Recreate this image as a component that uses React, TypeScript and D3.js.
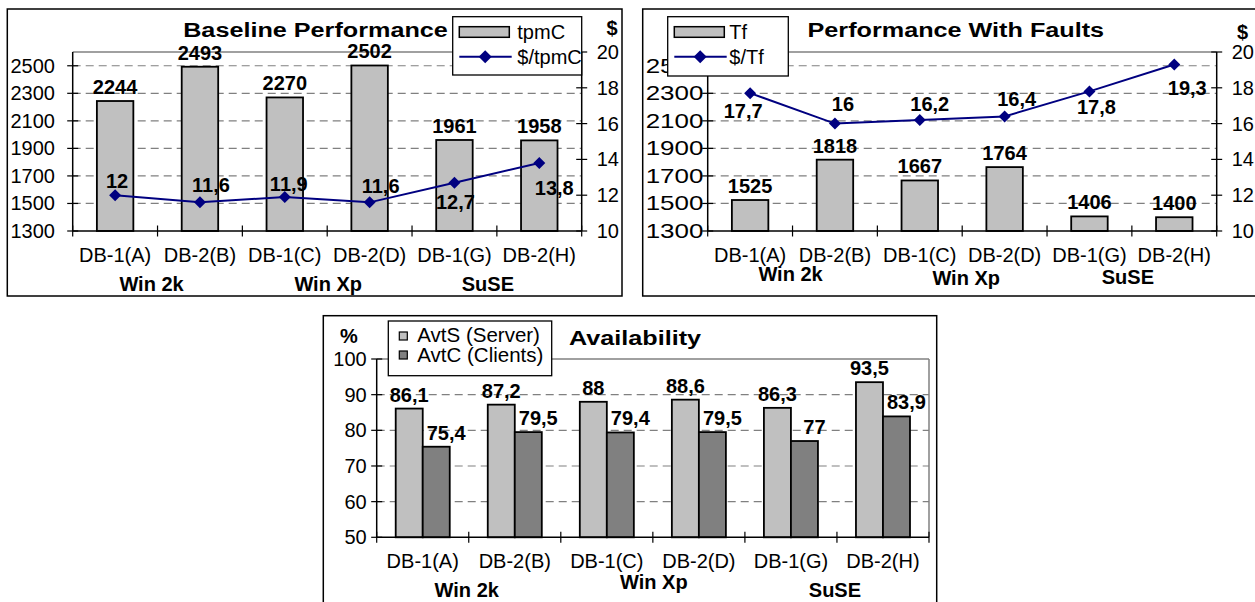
import React from 'react';
import * as d3 from 'd3';

// Server configurations, grouped by operating system (two per OS)
const categories = ['DB-1(A)', 'DB-2(B)', 'DB-1(C)', 'DB-2(D)', 'DB-1(G)', 'DB-2(H)'];
const osGroups = ['Win 2k', 'Win Xp', 'SuSE'];

// Baseline performance
const tpmC = [2244, 2493, 2270, 2502, 1961, 1958];
const costPerTpmC = [12, 11.6, 11.9, 11.6, 12.7, 13.8];

// Performance with faults
const tf = [1525, 1818, 1667, 1764, 1406, 1400];
const costPerTf = [17.7, 16, 16.2, 16.4, 17.8, 19.3];

// Availability (%)
const avtS = [86.1, 87.2, 88, 88.6, 86.3, 93.5];
const avtC = [75.4, 79.5, 79.4, 79.5, 77, 83.9];

const leftTicks = [1300, 1500, 1700, 1900, 2100, 2300, 2500];
const rightTicks = [10, 12, 14, 16, 18, 20];
const pctTicks = [50, 60, 70, 80, 90, 100];

const FONT = 'Liberation Sans, Arial, Helvetica, sans-serif';
const BAR_LIGHT = '#C0C0C0';
const BAR_DARK = '#808080';
const NAVY = '#000080';
const GRID = '#808080';

const fmt = (v: number) => String(v).replace('.', ',');
const diamond = (r: number) => `M0,${-r}L${r},0L0,${r}L${-r},0Z`;

type Box = { x0: number; y0: number; x1: number; y1: number };
type Plot = { left: number; top: number; right: number; bottom: number };

interface ComboProps {
  box: Box;
  plot: Plot;
  title: string;
  titleX: number;
  titleY: number;
  barName: string;
  lineName: string;
  bars: number[];
  line: number[];
  legend: { x: number; y: number; w: number; h: number; textGap: number };
  lineLabelOffsets: [number, number][];
  groupBaselines: number[];
  groupDx: number[];
  leftLabelEnd: number;
  leftLabelScale: number;
  rightLabelStart: number;
  dollarX: number;
  dollarY: number;
}

function ComboChart(p: ComboProps) {
  const { plot } = p;
  const x = d3
    .scaleBand<string>()
    .domain(categories)
    .range([plot.left, plot.right])
    .paddingInner(0.57)
    .paddingOuter(0.285);
  const yL = d3.scaleLinear().domain([1300, 2600]).range([plot.bottom, plot.top]);
  const yR = d3.scaleLinear().domain([10, 20]).range([plot.bottom, plot.top]);
  const cx = (i: number) => (x(categories[i]) as number) + x.bandwidth() / 2;
  const linePath = d3
    .line<number>()
    .x((_, i) => cx(i))
    .y((d) => yR(d))(p.line) as string;
  const boundaries = d3.range(categories.length + 1).map((i) => plot.left + i * x.step());
  const lg = p.legend;

  return (
    <g fontFamily={FONT}>
      <rect x={p.box.x0} y={p.box.y0} width={p.box.x1 - p.box.x0} height={p.box.y1 - p.box.y0}
        fill="#fff" stroke="#000" strokeWidth={1.5} />
      {/* plot area top edge */}
      <line x1={plot.left} x2={plot.right} y1={plot.top} y2={plot.top} stroke={GRID} strokeWidth={1.5} />
      {/* dashed gridlines */}
      {leftTicks.filter((t) => t > 1300).map((t) => (
        <line key={t} x1={plot.left} x2={plot.right} y1={yL(t)} y2={yL(t)}
          stroke={GRID} strokeWidth={1.2} strokeDasharray="8,5" />
      ))}
      {/* bars */}
      {p.bars.map((v, i) => (
        <rect key={i} x={x(categories[i])} y={yL(v)} width={x.bandwidth()} height={plot.bottom - yL(v)}
          fill={BAR_LIGHT} stroke="#000" strokeWidth={1.8} />
      ))}
      {/* axes */}
      <line x1={plot.left} x2={plot.left} y1={plot.top} y2={plot.bottom} stroke="#000" strokeWidth={1.5} />
      <line x1={plot.right} x2={plot.right} y1={plot.top} y2={plot.bottom} stroke="#000" strokeWidth={1.5} />
      <line x1={plot.left} x2={plot.right} y1={plot.bottom} y2={plot.bottom} stroke="#000" strokeWidth={1.5} />
      {leftTicks.map((t) => (
        <g key={t}>
          <line x1={plot.left - 5.5} x2={plot.left + 5.5} y1={yL(t)} y2={yL(t)} stroke="#000" strokeWidth={1.2} />
          <text transform={`translate(${p.leftLabelEnd},${yL(t) + 7}) scale(${p.leftLabelScale},1)`}
            textAnchor="end" fontSize={20}>{t}</text>
        </g>
      ))}
      {rightTicks.map((t) => (
        <g key={t}>
          <line x1={plot.right - 5.5} x2={plot.right + 5.5} y1={yR(t)} y2={yR(t)} stroke="#000" strokeWidth={1.2} />
          <text x={p.rightLabelStart} y={yR(t) + 7} fontSize={20}>{t}</text>
        </g>
      ))}
      <text x={p.dollarX} y={p.dollarY} textAnchor="middle" fontSize={20} fontWeight="bold">$</text>
      {boundaries.map((b, i) => (
        <line key={i} x1={b} x2={b} y1={plot.bottom - 5.5} y2={plot.bottom + 5.5} stroke="#000" strokeWidth={1.2} />
      ))}
      {categories.map((c, i) => (
        <text key={c} x={cx(i)} y={plot.bottom + 31} textAnchor="middle" fontSize={20}>{c}</text>
      ))}
      {osGroups.map((g, i) => (
        <text key={g} x={(cx(2 * i) + cx(2 * i + 1)) / 2 + p.groupDx[i]} y={p.groupBaselines[i]}
          textAnchor="middle" fontSize={20} fontWeight="bold">{g}</text>
      ))}
      {/* bar value labels */}
      {p.bars.map((v, i) => (
        <text key={i} x={cx(i)} y={yL(v) - 7} textAnchor="middle" fontSize={20} fontWeight="bold">{v}</text>
      ))}
      {/* cost line */}
      <path d={linePath} fill="none" stroke={NAVY} strokeWidth={2} />
      {p.line.map((v, i) => (
        <path key={i} d={diamond(6)} transform={`translate(${cx(i)},${yR(v)})`} fill={NAVY} />
      ))}
      {p.line.map((v, i) => (
        <text key={i} x={cx(i) + p.lineLabelOffsets[i][0]} y={yR(v) + p.lineLabelOffsets[i][1]}
          textAnchor="middle" fontSize={20} fontWeight="bold">{fmt(v)}</text>
      ))}
      {/* title */}
      <text transform={`translate(${p.titleX},${p.titleY}) scale(1.2,1)`} textAnchor="middle"
        fontSize={21} fontWeight="bold">{p.title}</text>
      {/* legend */}
      <rect x={lg.x} y={lg.y} width={lg.w} height={lg.h} fill="#fff" stroke="#000" strokeWidth={1.3} />
      <rect x={lg.x + 6.6} y={lg.y + 10} width={50} height={10.6} fill={BAR_LIGHT} stroke="#000" strokeWidth={1.5} />
      <text x={lg.x + 6.6 + 50 + lg.textGap} y={lg.y + 22} fontSize={20}>{p.barName}</text>
      <line x1={lg.x + 6.6} x2={lg.x + 59} y1={lg.y + 40} y2={lg.y + 40} stroke={NAVY} strokeWidth={2} />
      <path d={diamond(6.5)} transform={`translate(${lg.x + 32.5},${lg.y + 40})`} fill={NAVY} />
      <text x={lg.x + 6.6 + 50 + lg.textGap} y={lg.y + 47} fontSize={20}>{p.lineName}</text>
    </g>
  );
}

function AvailabilityChart() {
  const box: Box = { x0: 323.3, y0: 315.7, x1: 936.7, y1: 606 };
  const plot: Plot = { left: 376.7, top: 359, right: 929, bottom: 537.3 };
  const x0 = d3
    .scaleBand<string>()
    .domain(categories)
    .range([plot.left, plot.right])
    .paddingInner(0.413)
    .paddingOuter(0.2065);
  const x1 = d3.scaleBand<string>().domain(['S', 'C']).range([0, x0.bandwidth()]);
  const y = d3.scaleLinear().domain([50, 100]).range([plot.bottom, plot.top]);
  const cx = (i: number) => (x0(categories[i]) as number) + x0.bandwidth() / 2;
  const boundaries = d3.range(categories.length + 1).map((i) => plot.left + i * x0.step());
  const groupBaselines = [597, 589, 597];
  const groupDx = [-2, 1, -2];
  const series = [
    { key: 'S', values: avtS, fill: BAR_LIGHT, labelDx: 0 },
    { key: 'C', values: avtC, fill: BAR_DARK, labelDx: 10 },
  ];

  return (
    <g fontFamily={FONT}>
      <rect x={box.x0} y={box.y0} width={box.x1 - box.x0} height={box.y1 - box.y0}
        fill="#fff" stroke="#000" strokeWidth={1.5} />
      <line x1={plot.left} x2={plot.right} y1={plot.top} y2={plot.top} stroke={GRID} strokeWidth={1.5} />
      <line x1={plot.right} x2={plot.right} y1={plot.top} y2={plot.bottom} stroke={GRID} strokeWidth={1.5} />
      {pctTicks.filter((t) => t > 50 && t < 100).map((t) => (
        <line key={t} x1={plot.left} x2={plot.right} y1={y(t)} y2={y(t)}
          stroke={GRID} strokeWidth={1.2} strokeDasharray="8,5" />
      ))}
      {series.map((s) =>
        s.values.map((v, i) => (
          <rect key={s.key + i} x={(x0(categories[i]) as number) + (x1(s.key) as number)} y={y(v)}
            width={x1.bandwidth()} height={plot.bottom - y(v)} fill={s.fill} stroke="#000" strokeWidth={1.8} />
        ))
      )}
      <line x1={plot.left} x2={plot.left} y1={plot.top} y2={plot.bottom} stroke="#000" strokeWidth={1.5} />
      <line x1={plot.left} x2={plot.right} y1={plot.bottom} y2={plot.bottom} stroke="#000" strokeWidth={1.5} />
      {pctTicks.map((t) => (
        <g key={t}>
          <line x1={plot.left - 5.5} x2={plot.left + 5.5} y1={y(t)} y2={y(t)} stroke="#000" strokeWidth={1.2} />
          <text x={366.7} y={y(t) + 7} textAnchor="end" fontSize={20}>{t}</text>
        </g>
      ))}
      <text x={349} y={343} textAnchor="middle" fontSize={20} fontWeight="bold">%</text>
      {boundaries.map((b, i) => (
        <line key={i} x1={b} x2={b} y1={plot.bottom - 5.5} y2={plot.bottom + 5.5} stroke="#000" strokeWidth={1.2} />
      ))}
      {categories.map((c, i) => (
        <text key={c} x={cx(i)} y={plot.bottom + 31} textAnchor="middle" fontSize={20}>{c}</text>
      ))}
      {osGroups.map((g, i) => (
        <text key={g} x={(cx(2 * i) + cx(2 * i + 1)) / 2 + groupDx[i]} y={groupBaselines[i]}
          textAnchor="middle" fontSize={20} fontWeight="bold">{g}</text>
      ))}
      {series.map((s) =>
        s.values.map((v, i) => (
          <text key={s.key + i}
            x={(x0(categories[i]) as number) + (x1(s.key) as number) + x1.bandwidth() / 2 + s.labelDx}
            y={y(v) - 7} textAnchor="middle" fontSize={20} fontWeight="bold">{fmt(v)}</text>
        ))
      )}
      <text transform={`translate(635,345) scale(1.2,1)`} textAnchor="middle" fontSize={21} fontWeight="bold">
        Availability
      </text>
      {/* legend */}
      <rect x={388.3} y={321} width={163.4} height={54.7} fill="#fff" stroke="#000" strokeWidth={1.3} />
      <rect x={399.3} y={332} width={8} height={8} fill={BAR_LIGHT} stroke="#000" strokeWidth={1.2} />
      <text x={417.3} y={342} fontSize={20.5}>AvtS (Server)</text>
      <rect x={399.3} y={351} width={8} height={8} fill={BAR_DARK} stroke="#000" strokeWidth={1.2} />
      <text x={417.3} y={362} fontSize={20.5}>AvtC (Clients)</text>
    </g>
  );
}

export default function App() {
  return (
    <svg width={1255} height={602} style={{ position: 'absolute', left: 0, top: 0, background: '#fff' }}>
      <rect x={0} y={0} width={1255} height={602} fill="#fff" />
      <ComboChart
        box={{ x0: 7.3, y0: 9, x1: 622, y1: 296 }}
        plot={{ left: 72.7, top: 52, right: 581.7, bottom: 231 }}
        title="Baseline Performance"
        titleX={315.5}
        titleY={36.7}
        barName="tpmC"
        lineName="$/tpmC"
        bars={tpmC}
        line={costPerTpmC}
        legend={{ x: 452.7, y: 16.7, w: 129, h: 58.3, textGap: 8 }}
        lineLabelOffsets={[[2, -7], [11, -10.5], [4, -5.5], [11, -9], [1, 26.5], [15, 32]]}
        groupBaselines={[291, 291, 291]}
        groupDx={[-6, 1, -9]}
        leftLabelEnd={55}
        leftLabelScale={1}
        rightLabelStart={596.7}
        dollarX={612}
        dollarY={35}
      />
      <ComboChart
        box={{ x0: 642.7, y0: 9, x1: 1258, y1: 296 }}
        plot={{ left: 707.7, top: 52, right: 1216.7, bottom: 231 }}
        title="Performance With Faults"
        titleX={955.8}
        titleY={37.3}
        barName="Tf"
        lineName="$/Tf"
        bars={tf}
        line={costPerTf}
        legend={{ x: 667.7, y: 16.7, w: 120.6, h: 59.3, textGap: 5 }}
        lineLabelOffsets={[[-7, 25], [8, -13], [10, -9], [12, -10], [7, 23], [13, 30]]}
        groupBaselines={[281, 285, 284]}
        groupDx={[-2, 4, -4]}
        leftLabelEnd={703.5}
        leftLabelScale={1.3}
        rightLabelStart={1231.7}
        dollarX={1242.5}
        dollarY={38.5}
      />
      <AvailabilityChart />
    </svg>
  );
}
